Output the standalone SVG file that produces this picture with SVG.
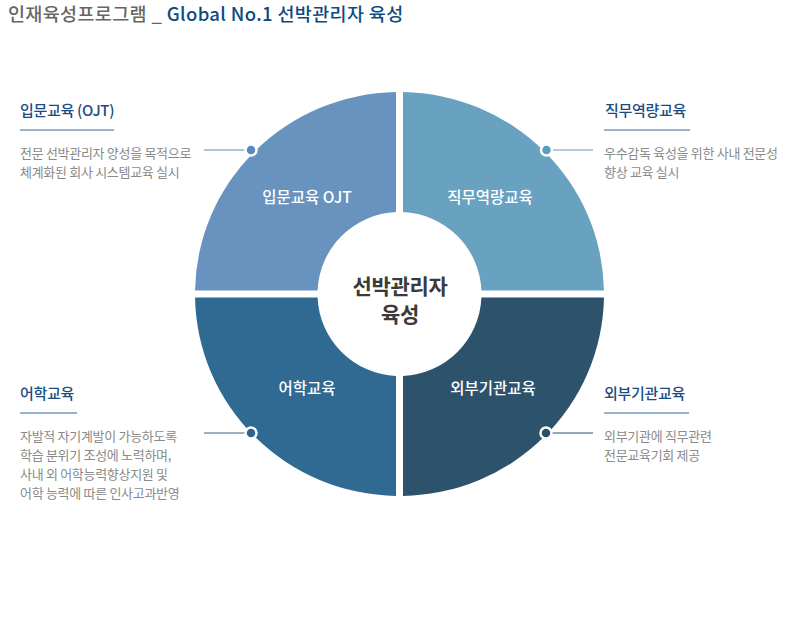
<svg xmlns="http://www.w3.org/2000/svg" width="791" height="625" viewBox="0 0 791 625">
<style>
text{font-family:"Noto Sans CJK KR","Noto Sans",sans-serif}
.title{font-size:18.5px;font-weight:500;letter-spacing:0.35px}
.h{font-size:15px;fill:#1b4d82;font-weight:500;letter-spacing:-0.3px}
.d{font-size:13px;fill:#8a8a8a;letter-spacing:-0.3px}
.q{font-size:15.5px;fill:#fff;text-anchor:middle;font-weight:500}
.c{font-size:21px;fill:#3a3a3a;text-anchor:middle;font-weight:700;letter-spacing:-0.3px}
.ul{stroke:#2f6ba3;stroke-width:1.2}
.dot{stroke:#fff;stroke-width:2.5}
</style>
<rect width="791" height="625" fill="#fff"/>
<g id="title">
<text class="title" x="8" y="21"><tspan fill="#666">인재육성프로그램 _ </tspan><tspan fill="#0e4a82">Global No.1 선박관리자 육성</tspan></text>
</g>
<g id="connectors">
<line x1="204" y1="150" x2="251" y2="150" stroke="#5b88bb" stroke-width="1"/>
<line x1="546.5" y1="150" x2="593" y2="150" stroke="#5c9cbe" stroke-width="1"/>
<line x1="204" y1="433" x2="251" y2="433" stroke="#2e6390" stroke-width="1"/>
<line x1="546" y1="433" x2="593" y2="433" stroke="#2d5069" stroke-width="1"/>
</g>
<g id="q-ojt">
<path d="M195.03,290.5 A204.5,202 0 0 1 396,92.03 L396,212.08 A82,82 0 0 0 317.58,290.5 Z" fill="#6893bf"/>
<text class="q" x="307" y="203">입문교육 OJT</text>
</g>
<g id="q-job">
<path d="M403,92.03 A204.5,202 0 0 1 603.97,290.5 L481.42,290.5 A82,82 0 0 0 403,212.08 Z" fill="#69a2c1"/>
<text class="q" x="490" y="203">직무역량교육</text>
</g>
<g id="q-ext">
<path d="M603.97,297.5 A204.5,202 0 0 1 403,495.97 L403,375.92 A82,82 0 0 0 481.42,297.5 Z" fill="#2d526c"/>
<text class="q" x="493" y="394">외부기관교육</text>
</g>
<g id="q-lang">
<path d="M396,495.97 A204.5,202 0 0 1 195.03,297.5 L317.58,297.5 A82,82 0 0 0 396,375.92 Z" fill="#306a92"/>
<text class="q" x="307" y="394">어학교육</text>
</g>
<g id="center">
<text class="c" x="400" y="294">선박관리자</text>
<text class="c" x="400" y="322">육성</text>
</g>
<g id="dots">
<circle class="dot" cx="251" cy="150" r="5.5" fill="#5b88bb"/>
<circle class="dot" cx="546.5" cy="150" r="5.5" fill="#5c9cbe"/>
<circle class="dot" cx="251" cy="433" r="5.5" fill="#2e6390"/>
<circle class="dot" cx="546" cy="433" r="5.5" fill="#2d5069"/>
</g>
<g id="info-ojt">
<text class="h" x="20" y="116">입문교육 (OJT)</text>
<line class="ul" x1="20" y1="130" x2="114" y2="130"/>
<text class="d" x="20" y="158">전문 선박관리자 양성을 목적으로</text>
<text class="d" x="20" y="177">체계화된 회사 시스템교육 실시</text>
</g>
<g id="info-job">
<text class="h" x="605" y="116">직무역량교육</text>
<line class="ul" x1="604" y1="130" x2="690" y2="130"/>
<text class="d" x="604" y="158">우수감독 육성을 위한 사내 전문성</text>
<text class="d" x="604" y="177">향상 교육 실시</text>
</g>
<g id="info-lang">
<text class="h" x="20" y="399">어학교육</text>
<line class="ul" x1="20" y1="413" x2="77" y2="413"/>
<text class="d" x="20" y="441">자발적 자기계발이 가능하도록</text>
<text class="d" x="20" y="460">학습 분위기 조성에 노력하며,</text>
<text class="d" x="20" y="479">사내 외 어학능력향상지원 및</text>
<text class="d" x="20" y="498">어학 능력에 따른 인사고과반영</text>
</g>
<g id="info-ext">
<text class="h" x="604" y="399">외부기관교육</text>
<line class="ul" x1="604" y1="413" x2="689" y2="413"/>
<text class="d" x="604" y="441">외부기관에 직무관련</text>
<text class="d" x="604" y="460">전문교육기회 제공</text>
</g>
</svg>
